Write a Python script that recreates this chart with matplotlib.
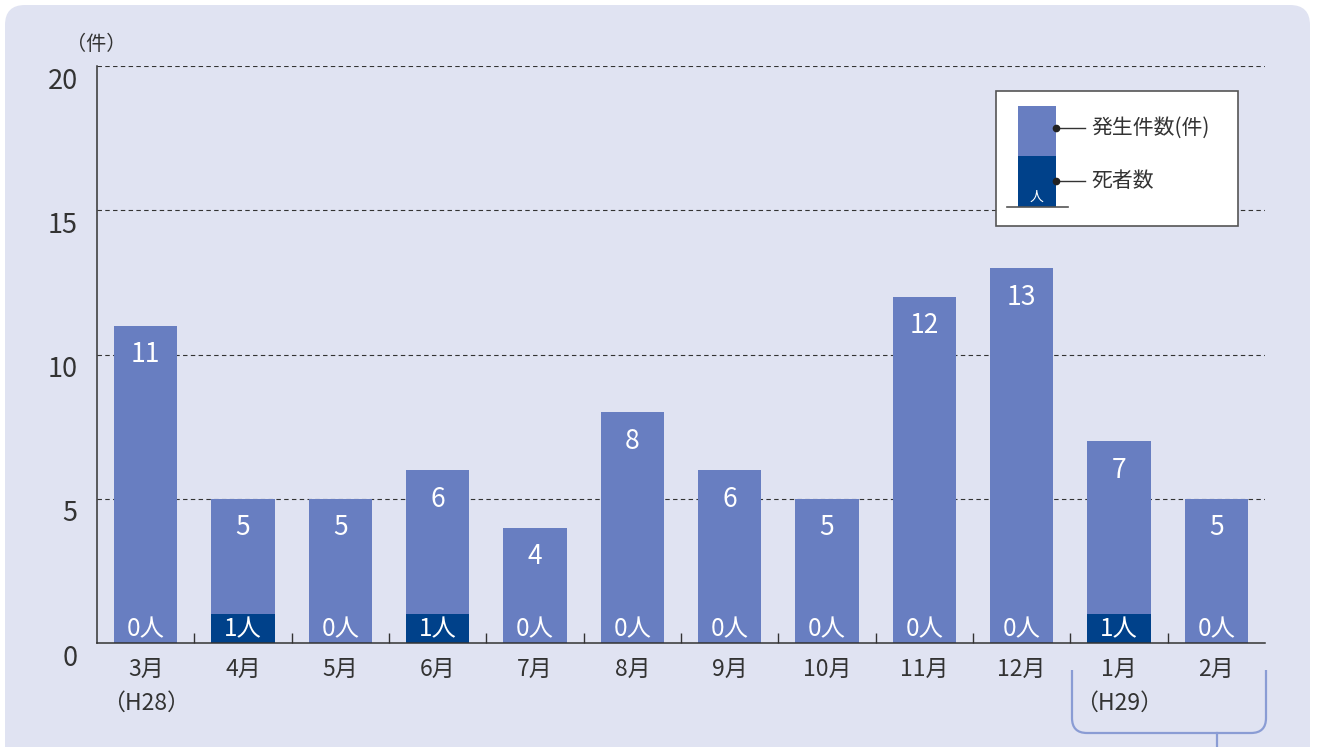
import matplotlib
matplotlib.use("Agg")
import matplotlib.pyplot as plt
from matplotlib.patches import FancyBboxPatch, Rectangle, PathPatch
from matplotlib.path import Path
from matplotlib.transforms import ScaledTranslation

plt.rcParams['font.family'] = ['Noto Sans CJK JP', 'DejaVu Sans']

months = ['3月\n（H28）', '4月', '5月', '6月', '7月', '8月', '9月', '10月',
          '11月', '12月', '1月\n（H29）', '2月']
cases = [11, 5, 5, 6, 4, 8, 6, 5, 12, 13, 7, 5]
deaths = [0, 1, 0, 1, 0, 0, 0, 0, 0, 0, 1, 0]
yticks = [0, 5, 10, 15, 20]

light = '#687EC1'
dark = '#00418A'
bg = '#E0E3F2'
txt = '#333333'

fig = plt.figure(figsize=(13.17, 7.47), dpi=100)
fig.patch.set_facecolor('white')

# rounded background panel
fig.patches.append(FancyBboxPatch((0.05, -0.5), 13.05, 7.92,
                                  boxstyle="round,pad=0,rounding_size=0.2",
                                  transform=fig.dpi_scale_trans, facecolor=bg,
                                  edgecolor='none', zorder=-1))

ax = fig.add_axes([0.0737, 0.1392, 0.8868, 0.7724])
ax.set_facecolor('none')

x = list(range(len(months)))
ax.bar(x, cases, width=0.65, color=light, zorder=3)
ax.bar(x, deaths, width=0.65, color=dark, zorder=4)

for i in x:
    ax.annotate(str(cases[i]), (i, cases[i]), xytext=(0, -21), textcoords='offset points',
                ha='center', va='center', color='white', fontsize=19, zorder=5)
    ax.text(i, 0.48, f'{deaths[i]}人', ha='center', va='center', color='white',
            fontsize=17.5, zorder=5)

ax.set_xlim(-0.5, 11.5)
ax.set_ylim(0, 20)
ax.set_yticks(yticks)
ax.set_yticklabels([str(v) for v in yticks], fontsize=19.5, color=txt)
ax.tick_params(axis='y', length=0, pad=14)
# labels sit a little below their gridlines in the original
shift = ScaledTranslation(0, -0.12, fig.dpi_scale_trans)
for lab in ax.get_yticklabels():
    lab.set_transform(lab.get_transform() + shift)
ax.set_xticks(x)
ax.set_xticklabels(months, fontsize=16.5, color=txt, linespacing=1.6, va='top')
ax.tick_params(axis='x', which='major', length=0, pad=11)
ax.set_xticks([i + 0.5 for i in range(11)], minor=True)
ax.tick_params(axis='x', which='minor', direction='in', length=7, width=1, color=txt)

for y in yticks[1:]:
    ax.axhline(y, color=txt, linestyle=(0, (4, 3)), linewidth=0.8, zorder=1)

for s in ['top', 'right']:
    ax.spines[s].set_visible(False)
for s in ['left', 'bottom']:
    ax.spines[s].set_color(txt)
    ax.spines[s].set_linewidth(1.1)
ax.spines['bottom'].set_zorder(6)

fig.text(0.965 / 13.17, 1 - 0.44 / 7.47, '（件）', fontsize=14.5, color=txt,
         ha='center', va='center')

# bracket under H29 months
T = fig.dpi_scale_trans
l, r, top, bot, rad, stem = 10.72, 12.66, 0.77, 0.14, 0.15, 12.17
verts = [(l, top), (l, bot + rad), (l, bot), (l + rad, bot), (r - rad, bot),
         (r, bot), (r, bot + rad), (r, top)]
codes = [Path.MOVETO, Path.LINETO, Path.CURVE3, Path.CURVE3, Path.LINETO,
         Path.CURVE3, Path.CURVE3, Path.LINETO]
fig.patches.append(PathPatch(Path(verts, codes), transform=T, facecolor='none',
                             edgecolor='#8A9CD4', linewidth=1.6))
fig.lines.append(plt.Line2D([stem, stem], [bot, -0.1], transform=T,
                            color='#8A9CD4', linewidth=1.6))

# legend box
fig.patches.append(Rectangle((9.96, 5.21), 2.42, 1.35, transform=T, facecolor='white',
                             edgecolor='#555555', linewidth=1.2, zorder=5))
fig.patches.append(Rectangle((10.18, 5.91), 0.38, 0.50, transform=T, facecolor=light,
                             edgecolor='none', zorder=6))
fig.patches.append(Rectangle((10.18, 5.40), 0.38, 0.51, transform=T, facecolor=dark,
                             edgecolor='none', zorder=6))
fig.lines.append(plt.Line2D([10.07, 10.68], [5.40, 5.40], transform=T, color='#555555',
                            linewidth=1.2, zorder=7))
for yy, lab in [(6.19, '発生件数(件)'), (5.66, '死者数')]:
    fig.lines.append(plt.Line2D([10.56, 10.85], [yy, yy], transform=T, color='#333333',
                                linewidth=1.0, zorder=7))
    fig.lines.append(plt.Line2D([10.56], [yy], transform=T, marker='o', markersize=4.5,
                                color='#222222', zorder=8))
    fig.text(10.91, yy, lab, transform=T, fontsize=15, color=txt, ha='left',
             va='center', zorder=8)
fig.text(10.37, 5.50, '人', transform=T, fontsize=10, color='white', ha='center',
         va='center', zorder=8)

fig.savefig('out.png', dpi=100)
